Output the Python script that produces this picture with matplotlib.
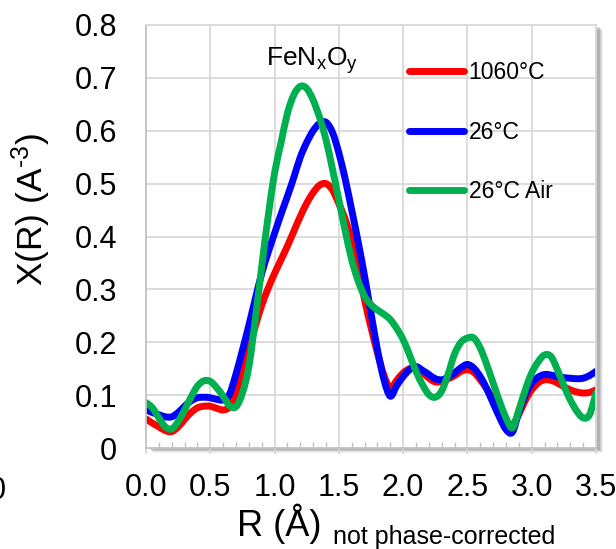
import matplotlib
matplotlib.use("Agg")
import matplotlib.pyplot as plt
import numpy as np
from matplotlib.patches import Rectangle, PathPatch
from matplotlib.path import Path
from matplotlib.lines import Line2D

plt.rcParams['font.family'] = ['Liberation Sans', 'DejaVu Sans']
plt.rcParams['mathtext.fontset'] = 'custom'
plt.rcParams['mathtext.rm'] = 'Liberation Sans'
plt.rcParams['mathtext.it'] = 'Liberation Sans:italic'

# R grid (Angstrom), sampled every 0.05
r = np.round(np.arange(0, 3.501, 0.05), 2)

chi_1060 = [0.055, 0.047, 0.040, 0.033, 0.031, 0.040, 0.054, 0.067, 0.076, 0.079,
            0.079, 0.075, 0.072, 0.078, 0.105, 0.145, 0.186, 0.230, 0.270, 0.302,
            0.330, 0.356, 0.382, 0.410, 0.438, 0.463, 0.483, 0.497, 0.500, 0.488,
            0.462, 0.432, 0.394, 0.340, 0.280, 0.228, 0.180, 0.138, 0.113, 0.128,
            0.142, 0.150, 0.151, 0.143, 0.132, 0.125, 0.126, 0.131, 0.137, 0.145,
            0.148, 0.143, 0.129, 0.112, 0.091, 0.068, 0.050, 0.044, 0.064, 0.090,
            0.110, 0.123, 0.129, 0.128, 0.123, 0.116, 0.110, 0.106, 0.104, 0.105,
            0.110]

chi_26 = [0.072, 0.067, 0.063, 0.059, 0.059, 0.067, 0.079, 0.089, 0.095, 0.096,
          0.095, 0.092, 0.091, 0.102, 0.140, 0.185, 0.232, 0.282, 0.330, 0.370,
          0.406, 0.442, 0.476, 0.512, 0.550, 0.578, 0.600, 0.614, 0.616, 0.597,
          0.558, 0.508, 0.450, 0.390, 0.325, 0.255, 0.186, 0.130, 0.098, 0.118,
          0.135, 0.148, 0.154, 0.147, 0.139, 0.131, 0.129, 0.134, 0.142, 0.152,
          0.158, 0.151, 0.135, 0.112, 0.085, 0.058, 0.035, 0.030, 0.068, 0.100,
          0.123, 0.134, 0.139, 0.138, 0.135, 0.133, 0.132, 0.131, 0.132, 0.137,
          0.145]

chi_26_air = [0.086, 0.076, 0.057, 0.040, 0.036, 0.050, 0.072, 0.096, 0.117, 0.127,
              0.126, 0.114, 0.098, 0.080, 0.078, 0.104, 0.154, 0.243, 0.343, 0.438,
              0.520, 0.577, 0.633, 0.668, 0.684, 0.680, 0.658, 0.625, 0.583, 0.528,
              0.469, 0.410, 0.356, 0.316, 0.287, 0.271, 0.261, 0.253, 0.243, 0.226,
              0.205, 0.176, 0.145, 0.120, 0.101, 0.096, 0.108, 0.140, 0.178, 0.200,
              0.208, 0.208, 0.189, 0.158, 0.123, 0.088, 0.057, 0.038, 0.072, 0.110,
              0.142, 0.163, 0.176, 0.173, 0.148, 0.118, 0.091, 0.070, 0.057, 0.063,
              0.104]

labels = ['1060°C', '26°C', '26°C Air']
colors = ['#FF0000', '#0000FF', '#00B050']


def smooth_path(x, y):
    """Excel-style smoothed line: cubic Bezier segments through every point."""
    pts = np.column_stack([x, y])
    verts = [pts[0]]
    codes = [Path.MOVETO]
    n = len(pts)
    for i in range(n - 1):
        p0 = pts[max(i - 1, 0)]
        p1 = pts[i]
        p2 = pts[i + 1]
        p3 = pts[min(i + 2, n - 1)]
        verts += [p1 + (p2 - p0) / 6, p2 - (p3 - p1) / 6, p2]
        codes += [Path.CURVE4] * 3
    return Path(verts, codes)


W, H = 616, 549
fig = plt.figure(figsize=(W / 100, H / 100), dpi=100)
ax_box = [146 / W, 101 / H, 450 / W, 423 / H]

# soft drop shadow at right/bottom, like the Excel chart
for i, a in enumerate([0.05, 0.07, 0.09, 0.12]):
    off = (5 - i) / 100
    fig.patches.append(Rectangle((ax_box[0] + off * 100 / W + 0.004, ax_box[1] - off * 100 / H),
                                 ax_box[2], ax_box[3], transform=fig.transFigure,
                                 facecolor='black', alpha=a, edgecolor='none', zorder=-1))

ax = fig.add_axes(ax_box)
ax.set_facecolor('white')

handles = []
for vals, lab, c in zip([chi_1060, chi_26, chi_26_air], labels, colors):
    ax.add_patch(PathPatch(smooth_path(r, vals), fill=False, edgecolor=c, lw=5,
                           capstyle='round', joinstyle='round'))
    handles.append(Line2D([], [], color=c, lw=5, solid_capstyle='round', label=lab))

ax.set_xlim(0, 3.5)
ax.set_ylim(0, 0.8)
xt = np.arange(0, 3.51, 0.5)
ax.set_xticks(xt)
ax.set_xticklabels([f"{v:.1f}" for v in xt])
ax.set_xticks(np.arange(0, 3.51, 0.1), minor=True)
yt = np.arange(0, 0.81, 0.1)
ax.set_yticks(yt)
ax.set_yticklabels(["0"] + [f"{v:.1f}" for v in yt[1:]])

ax.grid(True, which='major', color='#d9d9d9', lw=1.3)
ax.set_axisbelow(True)
ax.tick_params(axis='y', length=0, pad=21, labelsize=22)
ax.tick_params(axis='x', which='major', direction='out', length=4, width=1.3,
               color='#d9d9d9', pad=14, labelsize=22)
ax.tick_params(axis='x', which='minor', direction='in', length=4.5, width=1, color='#bfbfbf')
for side in ['left', 'bottom']:
    ax.spines[side].set_color('#c4c4c4')
    ax.spines[side].set_linewidth(1.3)
for side in ['top', 'right']:
    ax.spines[side].set_color('#d9d9d9')
    ax.spines[side].set_linewidth(1.3)

ax.legend(handles=handles, loc='upper left', bbox_to_anchor=(409 / W, 1 - 61 / H),
          bbox_transform=fig.transFigure, frameon=False, fontsize=16.5,
          handlelength=2.4, handletextpad=0.2, labelspacing=1.6, borderpad=0, borderaxespad=0)

fig.text(312 / W, 1 - 66 / H, r"FeN$_{\mathrm{x}}$O$_{\mathrm{y}}$", fontsize=19,
         ha='center', va='baseline')

fig.text(31 / W, 1 - 210 / H, r"X(R) (A$^{\text{-}3}$)", fontsize=25.5,
         rotation=90, ha='center', va='center')
fig.text(237 / W, 1 - 536 / H, "R (Å)", fontsize=26, ha='left', va='baseline')
fig.text(333 / W, 1 - 544 / H, "not phase-corrected", fontsize=18, ha='left', va='baseline')

# clipped label from the neighbouring panel
fig.text(6 / W, 1 - 491 / H, "0", fontsize=22, ha='right', va='center')

fig.savefig("out.png", dpi=100)
